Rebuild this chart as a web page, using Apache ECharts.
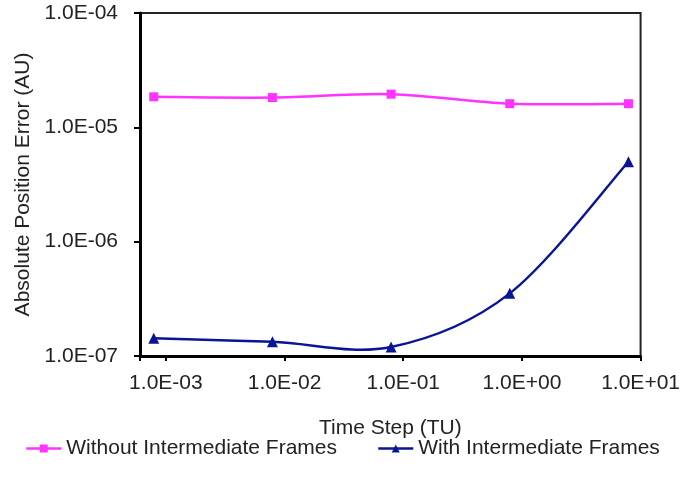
<!DOCTYPE html>
<html>
<head>
<meta charset="utf-8">
<script src="https://cdn.jsdelivr.net/npm/echarts@6/dist/echarts.min.js"></script>
<style>
  html, body { margin: 0; padding: 0; background: #fff; }
  #chart { width: 683px; height: 490px; }
</style>
</head>
<body>
<div id="chart"></div>
<script>
// time step (TU) of each run
const timeSteps = [0.00079, 0.0079, 0.079, 0.79, 7.9];
// absolute position error (AU)
const withoutFrames = [1.85e-5, 1.82e-5, 1.95e-5, 1.61e-5, 1.61e-5];
const withFrames = [1.43e-7, 1.33e-7, 1.20e-7, 3.53e-7, 5.0e-6];
const seriesNames = ['Without Intermediate Frames', 'With Intermediate Frames'];
const seriesColors = ['#ff33ff', '#0a1496'];

const font = 'Liberation Sans, Arial, sans-serif';

// 1.0E-03 style labels, only on whole decades
const sciLabel = (v) => {
    const p = Math.log10(v);
    if (Math.abs(p - Math.round(p)) > 1e-6) {
        return '';
    }
    const e = Math.round(p);
    const sign = e < 0 ? '-' : '+';
    return '1.0E' + sign + String(Math.abs(e)).padStart(2, '0');
};

// excel-like smoothed line: catmull-rom segments between the projected points
const smoothCurve = (values, color) => ({
    name: '',
    type: 'custom',
    z: 1,
    silent: true,
    data: timeSteps.map((t, i) => [t, values[i]]),
    renderItem: (params, api) => {
        if (params.dataIndex !== 0) {
            return null;
        }
        const pts = timeSteps.map((t, i) => api.coord([t, values[i]]));
        const n = pts.length;
        const children = [];
        for (let i = 0; i < n - 1; i++) {
            const p0 = pts[Math.max(i - 1, 0)];
            const p1 = pts[i];
            const p2 = pts[i + 1];
            const p3 = pts[Math.min(i + 2, n - 1)];
            children.push({
                type: 'bezierCurve',
                shape: {
                    x1: p1[0], y1: p1[1],
                    x2: p2[0], y2: p2[1],
                    cpx1: p1[0] + (p2[0] - p0[0]) / 6,
                    cpy1: p1[1] + (p2[1] - p0[1]) / 6,
                    cpx2: p2[0] - (p3[0] - p1[0]) / 6,
                    cpy2: p2[1] - (p3[1] - p1[1]) / 6
                },
                style: { stroke: color, lineWidth: 2.5, fill: null }
            });
        }
        return { type: 'group', children };
    }
});

const chart = echarts.init(document.getElementById('chart'));

const options = {
    animation: false,
    grid: {
        left: 140,
        right: 41,
        top: 13,
        bottom: 134,
        show: true,
        borderColor: '#222',
        borderWidth: 2
    },
    legend: {
        data: seriesNames.map((name, i) => ({
            name,
            lineStyle: { color: seriesColors[i], width: 2.5, opacity: 1 }
        })),
        left: 25,
        top: 438,
        width: 658,
        padding: 0,
        itemWidth: 35,
        itemHeight: 10,
        itemGap: 40,
        textStyle: { fontFamily: font, fontSize: 21, color: '#222' }
    },
    xAxis: {
        type: 'log',
        logBase: 10,
        min: 0.000605,
        max: 10,
        name: 'Time Step (TU)',
        nameLocation: 'middle',
        nameGap: 62,
        nameTextStyle: { fontFamily: font, fontSize: 21, color: '#222' },
        axisLine: { lineStyle: { color: '#000', width: 3 } },
        axisTick: { show: true, length: 5, lineStyle: { color: '#000', width: 2 } },
        axisLabel: { formatter: sciLabel, margin: 17, fontFamily: font, fontSize: 21, color: '#222' },
        splitLine: { show: false },
        minorTick: { show: false }
    },
    yAxis: {
        type: 'log',
        logBase: 10,
        min: 1e-7,
        max: 1e-4,
        name: 'Absolute Position Error (AU)',
        nameLocation: 'middle',
        nameGap: 106,
        nameTextStyle: { fontFamily: font, fontSize: 21, color: '#222' },
        axisLine: { show: true, lineStyle: { color: '#000', width: 3 } },
        axisTick: { show: true, length: 6, lineStyle: { color: '#000', width: 2 } },
        axisLabel: { formatter: sciLabel, margin: 22, fontFamily: font, fontSize: 21, color: '#222' },
        splitLine: { show: false }
    },
    series: [
        {
            name: seriesNames[0],
            type: 'line',
            z: 3,
            data: timeSteps.map((t, i) => [t, withoutFrames[i]]),
            symbol: 'rect',
            symbolSize: 9,
            itemStyle: { color: seriesColors[0] },
            lineStyle: { color: seriesColors[0], width: 2.5, opacity: 0 }
        },
        {
            name: seriesNames[1],
            type: 'line',
            z: 3,
            data: timeSteps.map((t, i) => [t, withFrames[i]]),
            symbol: 'triangle',
            symbolSize: 11,
            itemStyle: { color: seriesColors[1] },
            lineStyle: { color: seriesColors[1], width: 2.5, opacity: 0 }
        },
        smoothCurve(withoutFrames, seriesColors[0]),
        smoothCurve(withFrames, seriesColors[1])
    ]
};

chart.setOption(options);
</script>
</body>
</html>
